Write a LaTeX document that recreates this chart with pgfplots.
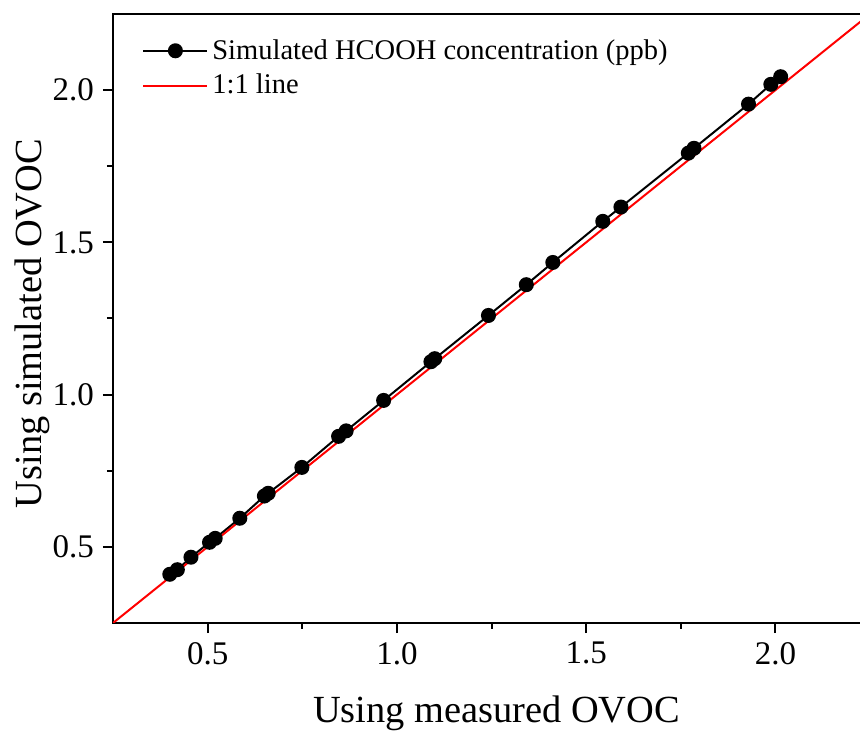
\documentclass[border=0pt]{standalone}
\usepackage{pgfplots}
\pgfplotsset{compat=1.18}
\usepackage{fontspec}
\setmainfont{Liberation Serif}
\begin{document}
\begin{tikzpicture}
\begin{axis}[
  name=ax,
  scale only axis,
  width=378.5pt, height=304.5pt,
  xmin=0.25, xmax=2.25, ymin=0.25, ymax=2.25,
  xtick={0.5,1.0,1.5,2.0}, ytick={0.5,1.0,1.5,2.0},
  minor tick num=1,
  xticklabels={0.5,1.0,1.5,2.0}, yticklabels={0.5,1.0,1.5,2.0},
  tick pos=left,
  tick align=outside,
  major tick length=5pt, minor tick length=3pt,
  every tick/.style={black, line width=1pt},
  axis line style={line width=1pt},
  /pgf/number format/assume math mode=true,
  tick label style={font=\fontsize{16.5}{19}\selectfont},
  xticklabel style={anchor=north, yshift=-1pt},
  yticklabel style={anchor=east, xshift=-1pt},
  xlabel={Using measured OVOC},
  ylabel={Using simulated OVOC},
  label style={font=\fontsize{19.2}{23}\selectfont},
  xlabel style={at={(rel axis cs:0.5,0)}, anchor=base, yshift=-49.5pt, xshift=2.5pt},
  ylabel style={at={(rel axis cs:0,0.5)}, anchor=base, xshift=-2.5pt, yshift=35.5pt},
  legend style={draw=none, fill=none, at={(rel axis cs:0,1)}, anchor=north west,
    xshift=14.5pt, yshift=-10.5pt, font=\fontsize{14.25}{17.5}\selectfont,
    row sep=2pt, inner sep=0pt},
  legend cell align=left,
  legend image code/.code={\draw[mark repeat=2,mark phase=2,#1] plot coordinates {(0pt,0pt) (16pt,0pt) (32pt,0pt)};},
]
\addplot[black, line width=1pt, mark=*, mark size=3.25pt, mark options={solid, fill=black}] coordinates {
(0.40,0.410) (0.42,0.425) (0.456,0.466) (0.505,0.515) (0.52,0.528) (0.585,0.594)
(0.650,0.667) (0.660,0.676) (0.749,0.761) (0.846,0.863) (0.866,0.881) (0.965,0.981)
(1.090,1.108) (1.100,1.118) (1.242,1.260) (1.342,1.361) (1.412,1.434) (1.544,1.569)
(1.592,1.616) (1.770,1.793) (1.785,1.809) (1.929,1.954) (1.988,2.019) (2.014,2.044)
};
\addlegendentry{Simulated HCOOH concentration (ppb)}
\addplot[color=red, draw=red, line width=1pt] coordinates {(0.25,0.25) (2.25,2.25)};
\addlegendentry{1:1 line}
\end{axis}
\pgfresetboundingbox
\path[use as bounding box] ([shift={(-56.5pt,-54pt)}]ax.south west) rectangle ([shift={(373.5pt,311.5pt)}]ax.south west);
\end{tikzpicture}
\end{document}
